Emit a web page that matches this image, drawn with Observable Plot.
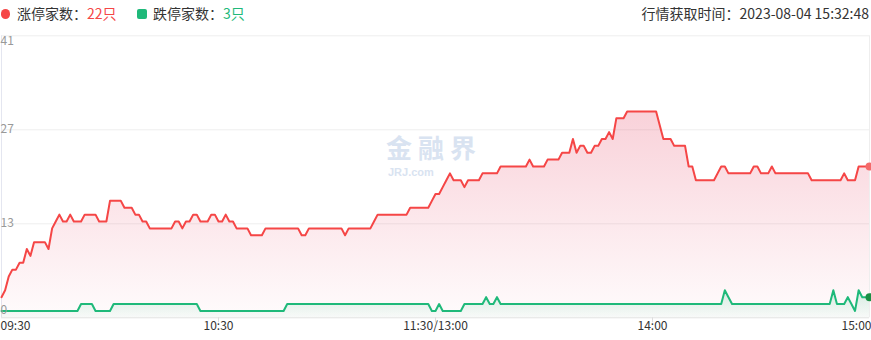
<!DOCTYPE html>
<html>
<head>
<meta charset="utf-8">
<script src="https://cdn.jsdelivr.net/npm/d3@7"></script>
<script src="https://cdn.jsdelivr.net/npm/@observablehq/plot@0.6"></script>
<style>
  body { margin: 0; background: #fff; }
  #wrap { position: relative; width: 871px; height: 340px; overflow: hidden;
          font-family: "Microsoft YaHei", "Noto Sans CJK SC", sans-serif; }
  #hdr { position: relative; height: 28px; font-size: 14px; color: #333; }
  #hdr .item { position: absolute; top: 0; line-height: 27px; white-space: nowrap; }
  #hdr .mk { position: absolute; }
  #wm { position: absolute; left: 386px; top: 134px; color: #d9e3f1; font-weight: bold; z-index: 0; }
  #wm .big { font-size: 26px; letter-spacing: 6px; line-height: 26px; height: 26px; }
  #wm .small { position: absolute; left: 2px; top: 33px; font-size: 11px; line-height: 11px; font-family: Arial, "Liberation Sans", sans-serif; }
  #chart { position: relative; z-index: 1; }
</style>
</head>
<body>
<div id="wrap">
  <div id="hdr"></div>
  <div id="wm"><div class="big">金融界</div><div class="small">JRJ.com</div></div>
  <div id="chart"></div>
</div>
<script>
// ---- data ----
const xTickLabels = ["09:30", "10:30", "11:30/13:00", "14:00", "15:00"];
const xTickIndex = [0, 60, 120, 180, 240];
const yTickLabels = ["0", "13", "27", "41"];
const yTickValues = [0, 41 / 3, 82 / 3, 41];

const limitUp = [
  3,4,6,7,7,8,8,10,9,11,
  11,11,11,10,13,14,15,14,14,15,
  14,14,14,15,15,15,15,14,14,14,
  17,17,17,17,16,16,16,15,15,14,
  14,13,13,13,13,13,13,13,14,14,
  13,14,14,15,15,14,14,14,15,15,
  14,14,15,14,14,13,13,13,13,12,
  12,12,12,13,13,13,13,13,13,13,
  13,13,13,12,12,13,13,13,13,13,
  13,13,13,13,13,12,13,13,13,13,
  13,13,13,14,15,15,15,15,15,15,
  15,15,15,16,16,16,16,16,16,17,
  18,18,19,20,21,20,20,20,19,20,
  20,20,20,21,21,21,21,21,22,22,
  22,22,22,22,22,22,23,22,22,22,
  22,23,23,23,23,24,24,24,26,24,
  25,25,24,24,25,25,26,26,27,26,
  29,29,29,30,30,30,30,30,30,30,
  30,30,28,26,26,26,25,25,25,25,
  22,22,20,20,20,20,20,20,21,22,
  22,21,21,21,21,21,21,21,22,22,
  21,21,21,22,21,21,21,21,21,21,
  21,21,21,21,20,20,20,20,20,20,
  20,20,20,21,20,20,20,22,22,22,
  22
];

const limitDown = [
  1,1,1,1,1,1,1,1,1,1,
  1,1,1,1,1,1,1,1,1,1,
  1,1,2,2,2,2,1,1,1,1,
  1,2,2,2,2,2,2,2,2,2,
  2,2,2,2,2,2,2,2,2,2,
  2,2,2,2,2,1,1,1,1,1,
  1,1,1,1,1,1,1,1,1,1,
  1,1,1,1,1,1,1,1,1,2,
  2,2,2,2,2,2,2,2,2,2,
  2,2,2,2,2,2,2,2,2,2,
  2,2,2,2,2,2,2,2,2,2,
  2,2,2,2,2,2,2,2,2,1,
  1,2,1,1,1,1,1,1,2,2,
  2,2,2,2,3,2,2,3,2,2,
  2,2,2,2,2,2,2,2,2,2,
  2,2,2,2,2,2,2,2,2,2,
  2,2,2,2,2,2,2,2,2,2,
  2,2,2,2,2,2,2,2,2,2,
  2,2,2,2,2,2,2,2,2,2,
  2,2,2,2,2,2,2,2,2,2,
  4,3,2,2,2,2,2,2,2,2,
  2,2,2,2,2,2,2,2,2,2,
  2,2,2,2,2,2,2,2,2,2,
  4,2,2,2,3,2,1,4,3,3,
  3
];

const seriesNames = ["涨停家数", "跌停家数"];
const unit = "只";
const fetchLabel = "行情获取时间";
const fetchTime = "2023-08-04 15:32:48";

// ---- style ----
const RED = "#f54646";
const GREEN = "#1fb97a";

// header
const hdr = document.getElementById("hdr");
const lastUp = limitUp[limitUp.length - 1];
const lastDown = limitDown[limitDown.length - 1];
hdr.innerHTML = `
  <span class="mk" style="left:0.5px;top:9px;width:9.5px;height:9.5px;border-radius:50%;background:${RED}"></span>
  <span class="item" style="left:17px">${seriesNames[0]}：<span style="color:${RED}">${lastUp}${unit}</span></span>
  <span class="mk" style="left:137px;top:9px;width:9.5px;height:9.5px;border-radius:2px;background:${GREEN}"></span>
  <span class="item" style="left:153px">${seriesNames[1]}：<span style="color:${GREEN}">${lastDown}${unit}</span></span>
  <span class="item" style="right:2px">${fetchLabel}：${fetchTime}</span>`;

const rows = limitUp.map((v, i) => ({ i, up: v, down: limitDown[i] }));
const last = rows[rows.length - 1];
const font = `"Microsoft YaHei", "Noto Sans CJK SC", sans-serif`;

const midY = [1, 2];
const chart = Plot.plot({
  width: 871,
  height: 312,
  marginTop: 7.3,
  marginBottom: 22.7,
  marginLeft: 1,
  marginRight: 2,
  style: { fontFamily: font, background: "transparent", overflow: "visible" },
  x: { type: "linear", domain: [0, 240], axis: null, label: null },
  y: { domain: [0, 41], axis: null, label: null },
  marks: [
    // grid
    Plot.ruleY(yTickValues.slice(1), { stroke: "#eeeeee", strokeWidth: 1 }),
    Plot.ruleY([0], { stroke: "#e3e3e3", strokeWidth: 1 }),
    Plot.ruleX([0], { stroke: "#e4e6f0", strokeWidth: 1 }),
    Plot.ruleX([240], { stroke: "#eeeeee", strokeWidth: 1 }),
    // areas
    Plot.areaY(rows, { x: "i", y: "up", fill: "url(#gRed)" }),
    Plot.areaY(rows, { x: "i", y: "down", fill: "url(#gGreen)" }),
    // lines
    Plot.lineY(rows, { x: "i", y: "up", stroke: RED, strokeWidth: 2 }),
    Plot.lineY(rows, { x: "i", y: "down", stroke: GREEN, strokeWidth: 2 }),
    Plot.dot([last], { x: "i", y: "up", r: 4, fill: "#f46a6a" }),
    Plot.dot([last], { x: "i", y: "down", r: 4, fill: "#1a8f45" }),
    // x ticks (marks only)
    Plot.axisX(xTickIndex.slice(1, -1), { anchor: "bottom", tickSize: 5, stroke: "#dddddd", tickFormat: () => "", label: null }),
    Plot.text([0], { x: (d) => xTickIndex[d], text: (d) => xTickLabels[d], frameAnchor: "bottom", dy: 12, textAnchor: "start", dx: -1, fontSize: 12, fill: "#333" }),
    Plot.text([1, 2, 3], { x: (d) => xTickIndex[d], text: (d) => xTickLabels[d], frameAnchor: "bottom", dy: 12, textAnchor: "middle", fontSize: 12, fill: "#333" }),
    Plot.text([4], { x: (d) => xTickIndex[d], text: (d) => xTickLabels[d], frameAnchor: "bottom", dy: 12, textAnchor: "end", dx: 2, fontSize: 12, fill: "#333" }),
    // y labels
    Plot.text([3], { y: (d) => yTickValues[d], text: (d) => yTickLabels[d], frameAnchor: "left", textAnchor: "start", dx: -1, dy: 5, fontSize: 12, fill: "#999" }),
    Plot.text(midY, { y: (d) => yTickValues[d], text: (d) => yTickLabels[d], frameAnchor: "left", textAnchor: "start", dx: -1, dy: -1, fontSize: 12, fill: "#999" }),
    Plot.text([0], { y: (d) => yTickValues[d], text: (d) => yTickLabels[d], frameAnchor: "left", textAnchor: "start", dx: -1, dy: -8, fontSize: 12, fill: "#999" })
  ]
});

const defs = d3.select(chart).insert("defs", ":first-child");
const gr = defs.append("linearGradient").attr("id", "gRed").attr("x1", 0).attr("y1", 0).attr("x2", 0).attr("y2", 1);
gr.append("stop").attr("offset", 0).attr("stop-color", "#e8506e").attr("stop-opacity", 0.26);
gr.append("stop").attr("offset", 1).attr("stop-color", "#e8506e").attr("stop-opacity", 0.02);
const gg = defs.append("linearGradient").attr("id", "gGreen").attr("x1", 0).attr("y1", 0).attr("x2", 0).attr("y2", 1);
gg.append("stop").attr("offset", 0).attr("stop-color", GREEN).attr("stop-opacity", 0.18);
gg.append("stop").attr("offset", 1).attr("stop-color", GREEN).attr("stop-opacity", 0.03);

document.getElementById("chart").appendChild(chart);
</script>
</body>
</html>
